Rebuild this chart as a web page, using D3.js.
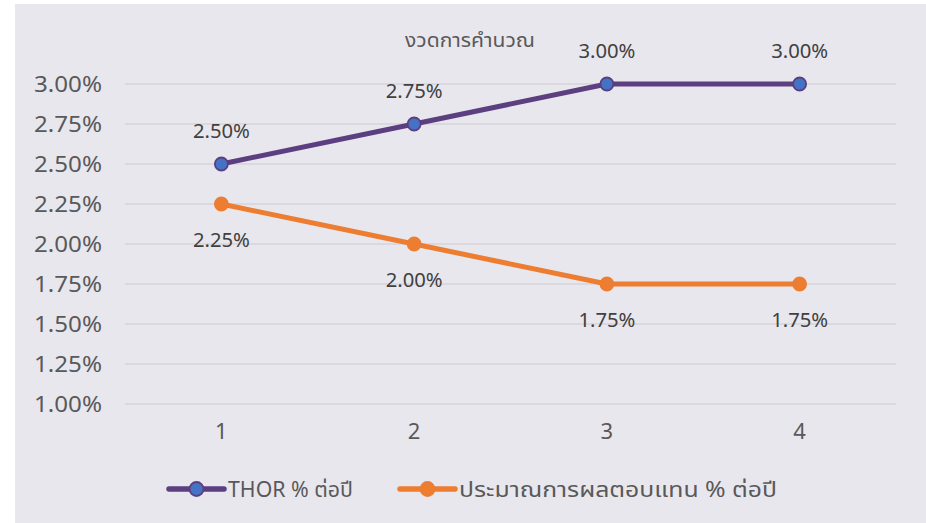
<!DOCTYPE html>
<html>
<head>
<meta charset="UTF-8">
<title>chart</title>
<script src="https://cdn.jsdelivr.net/npm/d3@7"></script>
<style>
  body { margin: 0; background: #fff; }
  text { font-family: "Noto Sans", "Noto Sans Thai", "DejaVu Sans", sans-serif; }
</style>
</head>
<body>
<svg width="926" height="523"></svg>
<script>
// data
var periods = ["1", "2", "3", "4"];
var thor = [2.50, 2.75, 3.00, 3.00];
var estReturn = [2.25, 2.00, 1.75, 1.75];
var yTicks = [1.00, 1.25, 1.50, 1.75, 2.00, 2.25, 2.50, 2.75, 3.00];
var seriesNames = ["THOR % ต่อปี", "ประมาณการผลตอบแทน % ต่อปี"];
var title = "งวดการคำนวณ";

var svg = d3.select("svg");
var W = 926, H = 523;

// chart background
svg.append("rect")
  .attr("x", 15).attr("y", 4)
  .attr("width", W - 15).attr("height", H - 4)
  .attr("fill", "#e9e7ee");

var plot = {left: 125, right: 896, top: 84, bottom: 404};

var x = d3.scaleBand().domain(periods).range([plot.left, plot.right]);
var y = d3.scaleLinear().domain([1.00, 3.00]).range([plot.bottom, plot.top]);
var fmt = function(v){ return v.toFixed(2) + "%"; };

// gridlines
svg.append("g").selectAll("line")
  .data(yTicks).enter().append("line")
  .attr("x1", plot.left).attr("x2", plot.right)
  .attr("y1", function(d){ return y(d); })
  .attr("y2", function(d){ return y(d); })
  .attr("stroke", "#d6d4d9").attr("stroke-width", 1.3);

// y axis labels
var yAxis = d3.axisLeft(y).tickValues(yTicks).tickFormat(fmt).tickSize(0).tickPadding(0);
var gy = svg.append("g").attr("transform", "translate(102,0)").call(yAxis);
gy.select(".domain").remove();
gy.selectAll("text")
  .attr("font-size", 22).attr("fill", "#595959")
  .attr("textLength", 68).attr("lengthAdjust", "spacingAndGlyphs")
  .style("font-family", "'Noto Sans', sans-serif");

// x axis labels
var xAxis = d3.axisBottom(x).tickSize(0).tickPadding(0);
var gx = svg.append("g").attr("transform", "translate(0,423)").call(xAxis);
gx.select(".domain").remove();
gx.selectAll("text")
  .attr("font-size", 22).attr("fill", "#595959")
  .style("font-family", "'Noto Sans', sans-serif");

// title
svg.append("text")
  .attr("x", 470).attr("y", 47)
  .attr("text-anchor", "middle")
  .attr("font-size", 20).attr("fill", "#595959")
  .attr("textLength", 130).attr("lengthAdjust", "spacingAndGlyphs")
  .text(title);

var cx = function(d, i){ return x(periods[i]) + x.bandwidth() / 2; };
var line = d3.line().x(cx).y(function(d){ return y(d); });

var series = [
  {values: thor, stroke: "#5b3f80", fill: "#4472c4", labelDy: -26},
  {values: estReturn, stroke: "#ed7d31", fill: "#ed7d31", labelDy: 43}
];

series.forEach(function(s){
  svg.append("path")
    .datum(s.values)
    .attr("d", line)
    .attr("fill", "none")
    .attr("stroke", s.stroke)
    .attr("stroke-width", 5)
    .attr("stroke-linejoin", "round");

  svg.append("g").selectAll("circle")
    .data(s.values).enter().append("circle")
    .attr("cx", cx)
    .attr("cy", function(d){ return y(d); })
    .attr("r", 6.5)
    .attr("fill", s.fill)
    .attr("stroke", s.stroke)
    .attr("stroke-width", 1.8);

  svg.append("g").selectAll("text")
    .data(s.values).enter().append("text")
    .attr("x", cx)
    .attr("y", function(d){ return y(d) + s.labelDy; })
    .attr("text-anchor", "middle")
    .attr("font-size", 19)
    .attr("fill", "#404040")
    .attr("textLength", 57).attr("lengthAdjust", "spacingAndGlyphs")
    .text(fmt);
});

// legend
var legendItems = [
  {name: seriesNames[0], s: series[0], x0: 169, w: 125},
  {name: seriesNames[1], s: series[1], x0: 400, w: 318}
];
var lg = svg.append("g").attr("transform", "translate(0,489)");
legendItems.forEach(function(it){
  lg.append("line")
    .attr("x1", it.x0).attr("x2", it.x0 + 55)
    .attr("y1", 0).attr("y2", 0)
    .attr("stroke", it.s.stroke).attr("stroke-width", 5.5)
    .attr("stroke-linecap", "round");
  lg.append("circle")
    .attr("cx", it.x0 + 27.5).attr("cy", 0).attr("r", 7)
    .attr("fill", it.s.fill).attr("stroke", it.s.stroke).attr("stroke-width", 1.8);
  lg.append("text")
    .attr("x", it.x0 + 59).attr("y", 8)
    .attr("font-size", 21).attr("fill", "#595959")
    .attr("textLength", it.w).attr("lengthAdjust", "spacingAndGlyphs")
    .text(it.name);
});
</script>
</body>
</html>
